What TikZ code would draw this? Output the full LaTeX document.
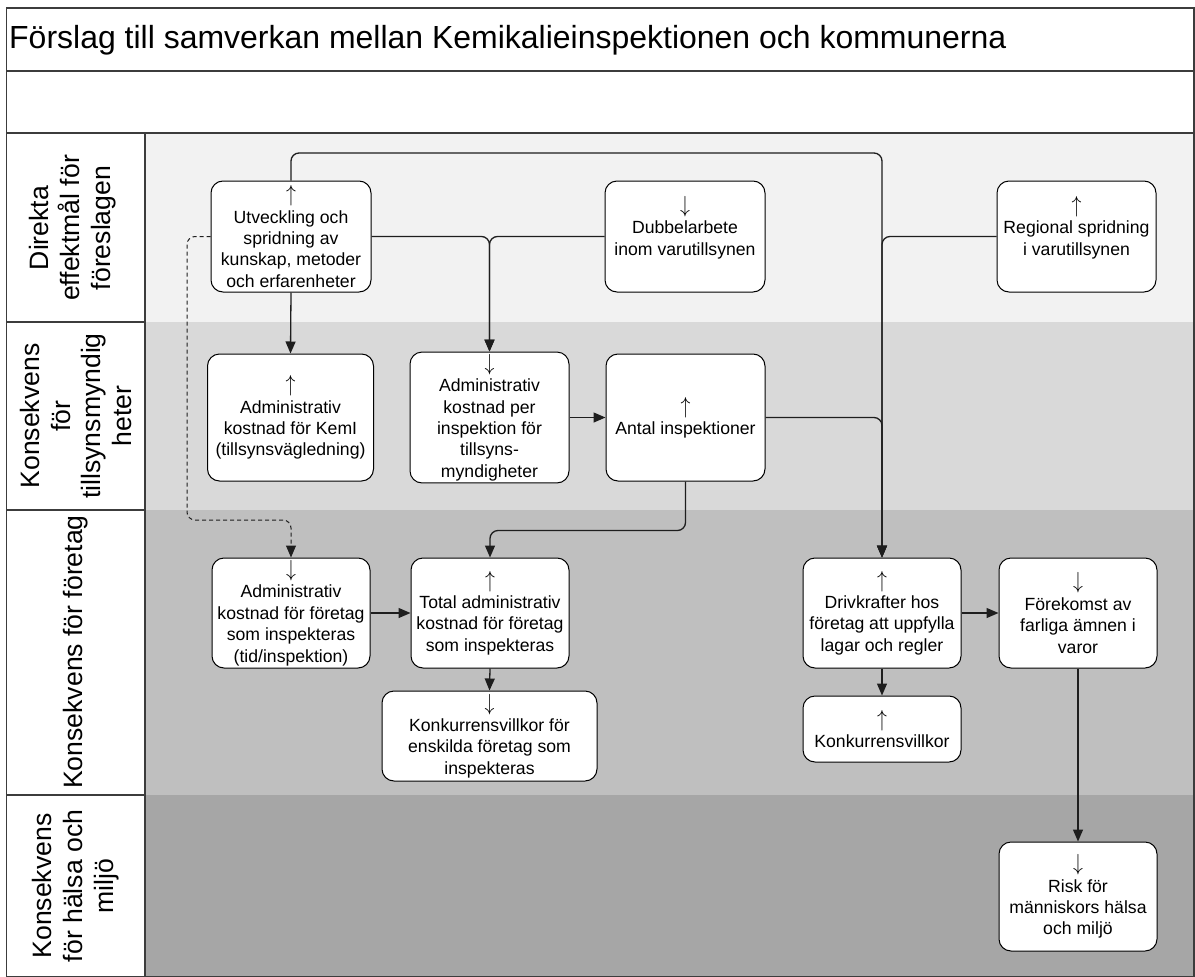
\documentclass[tikz,border=0pt]{standalone}
\usepackage{fontspec}
\usepackage{graphicx}
\setmainfont{Liberation Sans}
\usetikzlibrary{arrows.meta}
\definecolor{laneA}{HTML}{F2F2F2}
\definecolor{laneB}{HTML}{D9D9D9}
\definecolor{laneC}{HTML}{BFBFBF}
\definecolor{laneD}{HTML}{A6A6A6}
\definecolor{framecol}{HTML}{3C3C3C}
\definecolor{conncol}{HTML}{1E1E1E}
\newcommand{\upar}{\scalebox{1.15}[1.35]{$\uparrow$}}
\newcommand{\dnar}{\scalebox{1.15}[1.35]{$\downarrow$}}
\tikzset{
  stepbox/.style={draw=black, line width=1bp, rounded corners=12bp, fill=white,
    align=center, inner sep=2bp, font=\fontsize{17.7}{21.5}\selectfont},
  conn/.style={draw=conncol, line width=1.3bp, rounded corners=8bp,
    -{Triangle[length=12bp,width=10bp]}},
  lanelabel/.style={rotate=90, align=center, font=\fontsize{26.7}{31}\selectfont},
  frameline/.style={draw=framecol, line width=1.6bp}
}
\begin{document}
\begin{tikzpicture}[x=1bp,y=-1bp]
\useasboundingbox (0,0) rectangle (1195,977);
% lane backgrounds
\fill[laneA] (145,133) rectangle (1194,322);
\fill[laneB] (145,322) rectangle (1194,510);
\fill[laneC] (145,510) rectangle (1194,795);
\fill[laneD] (145,795) rectangle (1194,977);
% frame
\draw[frameline] (6.5,8) rectangle (1194,977);
\draw[frameline] (6.5,71) -- (1194,71);
\draw[frameline] (6.5,133) -- (1194,133);
\draw[frameline] (145,133) -- (145,977);
\draw[frameline] (6.5,322) -- (145,322);
\draw[frameline] (6.5,510) -- (145,510);
\draw[frameline] (6.5,795) -- (145,795);
% title
\node[anchor=west, font=\fontsize{32.1}{36}\selectfont, inner sep=0pt] (title) at (9,40) {Förslag till samverkan mellan Kemikalieinspektionen och kommunerna};
% lane labels
\node[lanelabel] (l1) at (73,228) {Direkta\\effektmål för\\föreslagen};
\node[lanelabel] (l2) at (76,416) {Konsekvens\\för\\tillsynsmyndig\\heter};
\node[lanelabel] (l3) at (76,652) {Konsekvens för företag};
\node[lanelabel] (l4) at (76,886) {Konsekvens\\för hälsa och\\miljö};
% boxes
\node[stepbox, minimum width=160bp, minimum height=111bp] (ut) at (291,236.5) {\upar\\Utveckling och\\spridning av\\kunskap, metoder\\och erfarenheter};
\node[stepbox, minimum width=160bp, minimum height=111bp] (dub) at (685,236.5) {\dnar\\Dubbelarbete\\inom varutillsynen\\\mbox{}};
\node[stepbox, minimum width=159bp, minimum height=111bp] (reg) at (1076.5,236.5) {\upar\\Regional spridning\\i varutillsynen\\\mbox{}};
\node[stepbox, minimum width=166bp, minimum height=127bp] (kemi) at (290.5,417.5) {\upar\\Administrativ\\kostnad för KemI\\(tillsynsvägledning)};
\node[stepbox, minimum width=159bp, minimum height=127bp] (per) at (489.5,417.5) {\dnar\\Administrativ\\kostnad per\\inspektion för\\tillsyns-\\myndigheter};
\node[stepbox, minimum width=159bp, minimum height=127bp] (ant) at (685.5,417.5) {\upar\\Antal inspektioner};
\node[stepbox, minimum width=158bp, minimum height=110bp] (afor) at (291,613) {\dnar\\Administrativ\\kostnad för företag\\som inspekteras\\(tid/inspektion)};
\node[stepbox, minimum width=158bp, minimum height=110bp] (tot) at (490,613) {\upar\\Total administrativ\\kostnad för företag\\som inspekteras};
\node[stepbox, minimum width=215bp, minimum height=90bp] (kenk) at (489.5,736) {\dnar\\Konkurrensvillkor för\\enskilda företag som\\inspekteras};
\node[stepbox, minimum width=158bp, minimum height=110bp] (driv) at (882,613) {\upar\\Drivkrafter hos\\företag att uppfylla\\lagar och regler};
\node[stepbox, minimum width=158bp, minimum height=110bp] (fore) at (1078,613) {\dnar\\Förekomst av\\farliga ämnen i\\varor};
\node[stepbox, minimum width=158bp, minimum height=66bp] (konk) at (882,729) {\upar\\Konkurrensvillkor};
\node[stepbox, minimum width=158bp, minimum height=109bp] (risk) at (1078,896.5) {\dnar\\Risk för\\människors hälsa\\och miljö};
% helper coordinates
\coordinate (d1) at (187,520);
% connectors
\draw[conn] (ut.north) -- ++(0,-27.5) -| (driv.north);
\draw[conn] (reg.west) -| (driv.north);
\draw[conn] (ant.east) -| (driv.north);
\draw[conn] (ut.east) -| (per.north);
\draw[conn] (dub.west) -| (per.north);
\draw[conn] (ut.south) -- (kemi.north);
\draw[conn, dash pattern=on 4bp off 3bp, line width=1bp] (ut.west) -| (d1) -| (afor.north);
\draw[conn] (per.east) -- (ant.west);
\draw[conn] (ant.south) -- ++(0,49) -| (tot.north);
\draw[conn] (afor.east) -- (tot.west);
\draw[conn] (tot.south) -- (kenk.north);
\draw[conn] (driv.south) -- (konk.north);
\draw[conn] (driv.east) -- (fore.west);
\draw[conn] (fore.south) -- (risk.north);
\end{tikzpicture}
\end{document}
